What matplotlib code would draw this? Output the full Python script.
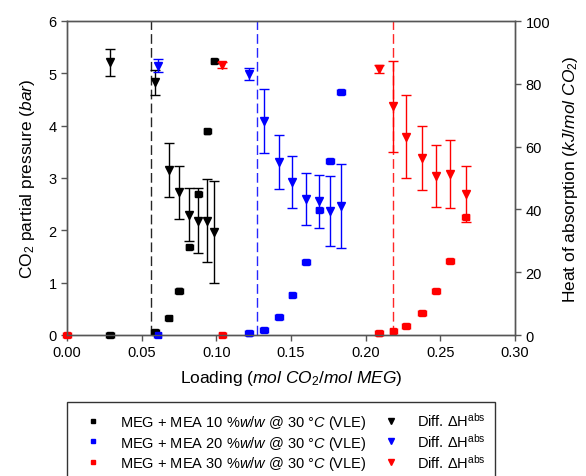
import matplotlib
matplotlib.use('Agg')
import matplotlib.pyplot as plt
from matplotlib.lines import Line2D

plt.rcParams['font.family'] = 'Liberation Sans'
plt.rcParams['mathtext.fontset'] = 'custom'
plt.rcParams['mathtext.rm'] = 'Liberation Sans'
plt.rcParams['mathtext.it'] = 'Liberation Sans:italic'
plt.rcParams['mathtext.sf'] = 'Liberation Sans'

# MEG + MEA 10 %w/w
load_10 = [0.0288, 0.059, 0.068, 0.075, 0.082, 0.088, 0.094, 0.0987]
p_10 = [0.0, 0.06, 0.32, 0.85, 1.68, 2.70, 3.89, 5.23]
h_10 = [86.8, 80.5, 52.6, 45.4, 38.3, 36.4, 36.4, 32.9]
herr_10 = [4.4, 4.0, 8.6, 8.3, 8.5, 10.4, 13.2, 16.2]

# MEG + MEA 20 %w/w
load_20 = [0.0607, 0.122, 0.132, 0.142, 0.151, 0.160, 0.169, 0.176, 0.1835]
p_20 = [0.0, 0.03, 0.10, 0.34, 0.77, 1.39, 2.39, 3.32, 4.64]
h_20 = [85.8, 83.1, 68.1, 55.0, 48.8, 43.3, 42.6, 39.6, 41.2]
herr_20 = [2.2, 2.0, 10.2, 8.6, 8.2, 8.2, 8.4, 11.1, 13.4]

# MEG + MEA 30 %w/w
load_30 = [0.0, 0.104, 0.209, 0.2186, 0.227, 0.2376, 0.247, 0.2565, 0.267]
p_30 = [0.0, 0.0, 0.03, 0.07, 0.17, 0.42, 0.84, 1.41, 2.26]
hload_30 = [0.104, 0.209, 0.2186, 0.227, 0.2376, 0.247, 0.2565, 0.267]
h_30 = [86.0, 84.7, 72.8, 63.2, 56.4, 50.7, 51.3, 44.9]
herr_30 = [1.0, 1.3, 14.6, 13.3, 10.1, 9.9, 10.9, 8.9]

# vertical dashed lines
vlines = [0.0563, 0.127, 0.218]
colors = ['black', '#0000ff', '#ff0000']
labels = ['10', '20', '30']

fig = plt.figure(figsize=(5.86, 4.77), dpi=100)
ax = fig.add_axes([67/586, 1-336/477, 448/586, 314/477])
ax2 = ax.twinx()

for xv, c in zip(vlines, colors):
    ax.axvline(xv, color=c, linestyle=(0, (7, 3)), linewidth=1, alpha=0.85)

sq = [(load_10, p_10), (load_20, p_20), (load_30, p_30)]
for (lx, py), c in zip(sq, colors):
    ax.errorbar(lx, py, xerr=0.0025, yerr=0.04, fmt='s', color=c, ms=4,
                capsize=2, elinewidth=1, clip_on=False, zorder=3)

tri = [(load_10, h_10, herr_10), (load_20, h_20, herr_20), (hload_30, h_30, herr_30)]
for (lx, hy, he), c in zip(tri, colors):
    ax2.errorbar(lx, hy, yerr=he, fmt='v', color=c, ms=6, capsize=3.5,
                 elinewidth=1, clip_on=False, zorder=3)

ax.set_xlim(0, 0.30)
ax.set_ylim(0, 6)
ax2.set_ylim(0, 100)
ax.set_xticks([0.0, 0.05, 0.10, 0.15, 0.20, 0.25, 0.30])
ax.set_xticklabels(['0.00', '0.05', '0.10', '0.15', '0.20', '0.25', '0.30'])
ax.set_yticks(range(0, 7))
ax2.set_yticks(range(0, 101, 20))

for a in (ax, ax2):
    for s in a.spines.values():
        s.set_color('#555555')
        s.set_linewidth(1)
    a.tick_params(direction='out', length=4, width=1, color='#555555', labelsize=10.5)

ax.set_xlabel(r'Loading ($\mathit{mol\ CO_2/mol\ MEG}$)', fontsize=12.5, labelpad=6)
ax.set_ylabel(r'CO$_2$ partial pressure ($\mathit{bar}$)', fontsize=12.5, labelpad=8)
ax2.set_ylabel(r'Heat of absorption ($\mathit{kJ/mol\ CO_2}$)', fontsize=12.5, labelpad=8)

handles = []
names = []
for c, l in zip(colors, labels):
    handles.append(Line2D([], [], marker='s', color=c, linestyle='none', ms=3))
    names.append('MEG + MEA ' + l + r' %$\mathit{w/w}$ @ 30 °$\mathit{C}$ (VLE)')
for c in colors:
    handles.append(Line2D([], [], marker='v', color=c, linestyle='none', ms=5))
    names.append(r'Diff. $\Delta$H$^{\mathrm{abs}}$')

leg = fig.legend(handles, names, ncol=2, loc='upper left',
                 bbox_to_anchor=(67/586, 1-403/477), borderaxespad=0,
                 fontsize=10.5, frameon=True, fancybox=False, edgecolor='black',
                 handletextpad=0.6, columnspacing=0.5, labelspacing=0.2,
                 handlelength=2.4, borderpad=0.6)
leg.get_frame().set_linewidth(1)

fig.savefig('out.png', dpi=100)
